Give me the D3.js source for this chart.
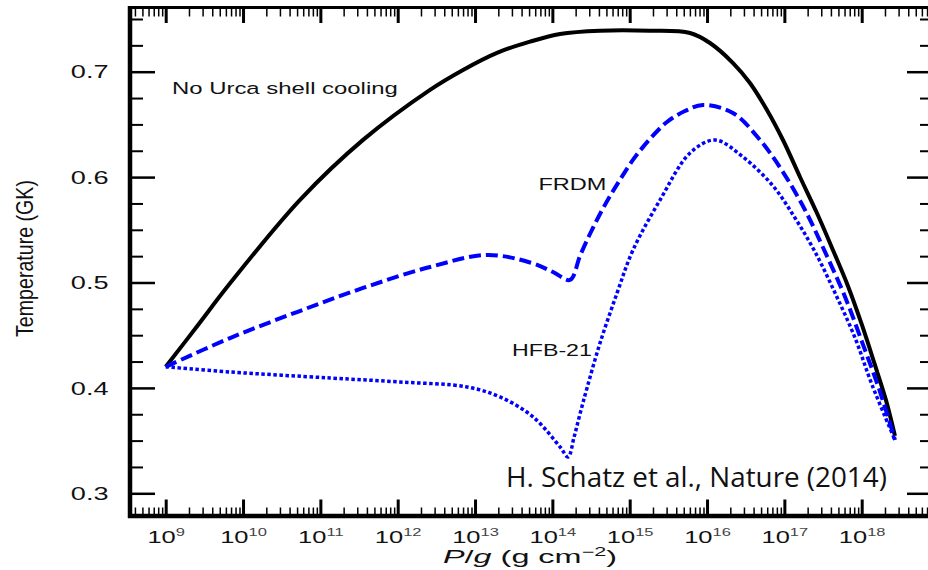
<!DOCTYPE html>
<html>
<head>
<meta charset="utf-8">
<script src="https://cdn.jsdelivr.net/npm/d3@7"></script>
<style>
body { margin:0; background:#fff; }
text { font-family: "Liberation Sans", Arial, sans-serif; fill:#111; }
</style>
</head>
<body>
<svg id="chart" width="928" height="570"></svg>
<script>
// curves: x = log10(P/g), y = temperature in GK
var noUrcaLogP = [9, 9.401, 9.832, 10.737, 11.552, 12.418, 12.845, 13.284, 13.711, 14.099, 14.616, 15.262, 15.78, 16.038, 16.336, 16.555, 16.775, 16.982, 17.202, 17.421, 17.628, 17.822, 18.003, 18.171, 18.313, 18.43];
var noUrcaT    = [0.42, 0.458, 0.4992, 0.5784, 0.6353, 0.6828, 0.7017, 0.7179, 0.7285, 0.7358, 0.7389, 0.7389, 0.7367, 0.7272, 0.7082, 0.6893, 0.6637, 0.6352, 0.6001, 0.5659, 0.5308, 0.4967, 0.4597, 0.4218, 0.3886, 0.3545];

var frdmLogP = [9, 9.832, 10.698, 11.552, 12.418, 13.155, 13.711, 14.008, 14.228, 14.357, 14.486, 14.616, 14.745, 14.874, 15.042, 15.262, 15.482, 15.714, 15.947, 16.335, 16.685, 16.982, 17.267, 17.526, 17.785, 18.018, 18.238, 18.43];
var frdmT    = [0.42, 0.4473, 0.472, 0.4948, 0.5147, 0.5261, 0.519, 0.51, 0.5024, 0.5252, 0.546, 0.565, 0.582, 0.5974, 0.6163, 0.6362, 0.6523, 0.6627, 0.6684, 0.6608, 0.6352, 0.6048, 0.5688, 0.529, 0.4863, 0.4408, 0.3961, 0.3506];

var hfbLogP = [9, 9.832, 11.125, 12.03, 12.896, 13.323, 13.75, 14.099, 14.203, 14.281, 14.357, 14.448, 14.616, 14.836, 15.042, 15.392, 15.78, 16.103, 16.465, 16.853, 17.138, 17.397, 17.655, 17.914, 18.134, 18.43];
var hfbT    = [0.42, 0.4151, 0.4094, 0.4056, 0.4009, 0.3914, 0.3725, 0.344, 0.3345, 0.3534, 0.3752, 0.3999, 0.4425, 0.4899, 0.5307, 0.5782, 0.6228, 0.6352, 0.6191, 0.5916, 0.5612, 0.529, 0.4901, 0.4474, 0.4028, 0.3506];

var xMajorExp = [9, 10, 11, 12, 13, 14, 15, 16, 17, 18];
var yMajor = [0.3, 0.4, 0.5, 0.6, 0.7];

var svg = d3.select("#chart");
var frame = {left:130, right:933, top:7.5, bottom:516};

var x = d3.scaleLog().domain([1e9, 1e18]).range([165.7, 861.7]);
var y = d3.scaleLinear().domain([0.3, 0.7]).range([493.3, 71.7]);

// minor ticks: 2..9 x 10^d and every 0.025 in T
var xMinor = [];
for (var d = 8; d <= 18; d++)
	for (var m = 2; m <= 9; m++)
	{
		var v = m * Math.pow(10, d);
		if (x(v) > frame.left + 2 && x(v) < frame.right - 2)
			xMinor.push(v);
	}
var xMajor = xMajorExp.map(function(e){ return Math.pow(10, e); });
var yMinor = d3.range(0.275, 0.776, 0.025).filter(function(v){
	var near = yMajor.some(function(t){ return Math.abs(t - v) < 1e-6; });
	return !near && y(v) > frame.top + 2 && y(v) < frame.bottom - 2;
});

function tickAxis(axis, pos, values, size, w)
{
	var g = svg.append("g").attr("transform", pos)
		.call(axis.tickValues(values).tickSize(size).tickSizeOuter(0).tickFormat(""));
	g.select(".domain").remove();
	g.selectAll(".tick line").attr("stroke", "#000").attr("stroke-width", w);
	return g;
}

tickAxis(d3.axisBottom(x), "translate(0," + frame.bottom + ")", xMinor, -8.5, 1.5);
var xBottom = tickAxis(d3.axisBottom(x), "translate(0," + frame.bottom + ")", xMajor, -16.5, 3);
tickAxis(d3.axisTop(x), "translate(0," + frame.top + ")", xMinor, -9, 1.5);
tickAxis(d3.axisTop(x), "translate(0," + frame.top + ")", xMajor, -15.5, 3);

tickAxis(d3.axisLeft(y), "translate(" + frame.left + ",0)", yMinor, -13, 2);
var yLeft = tickAxis(d3.axisLeft(y), "translate(" + frame.left + ",0)", yMajor, -25, 2.5);
tickAxis(d3.axisRight(y), "translate(" + frame.right + ",0)", yMinor, -13, 2);
tickAxis(d3.axisRight(y), "translate(" + frame.right + ",0)", yMajor, -26, 2.5);

// tick labels, stretched wide like the scanned figure
xBottom.selectAll(".tick").each(function(v, i){
	var t = d3.select(this).append("text")
		.attr("text-anchor", "middle")
		.attr("font-size", 17)
		.attr("transform", "translate(0,27) scale(1.5,1)");
	t.append("tspan").text("10");
	t.append("tspan").attr("font-size", 11).attr("dy", -7).attr("fill", "#444")
		.text(String(xMajorExp[i]));
});
yLeft.selectAll(".tick").append("text")
	.attr("text-anchor", "end")
	.attr("font-size", 17.5)
	.attr("dy", "0.35em")
	.attr("transform", "translate(-21.5,0) scale(1.55,1)")
	.text(function(v){ return d3.format(".1f")(v); });

// frame
svg.append("line").attr("x1", frame.left).attr("x2", frame.left)
	.attr("y1", frame.top - 1.5).attr("y2", frame.bottom + 2)
	.attr("stroke", "#000").attr("stroke-width", 4.5);
svg.append("line").attr("x1", frame.left - 2).attr("x2", frame.right)
	.attr("y1", frame.bottom).attr("y2", frame.bottom)
	.attr("stroke", "#000").attr("stroke-width", 4.5);
svg.append("line").attr("x1", frame.left - 2).attr("x2", frame.right)
	.attr("y1", frame.top).attr("y2", frame.top)
	.attr("stroke", "#000").attr("stroke-width", 3);

// curves
var line = d3.line()
	.x(function(d){ return x(Math.pow(10, d[0])); })
	.y(function(d){ return y(d[1]); })
	.curve(d3.curveCatmullRom.alpha(0.5));

function pairs(a, b){ return a.map(function(v, i){ return [v, b[i]]; }); }

svg.append("path").datum(pairs(noUrcaLogP, noUrcaT))
	.attr("d", line).attr("fill", "none")
	.attr("stroke", "#000").attr("stroke-width", 4);
svg.append("path").datum(pairs(frdmLogP, frdmT))
	.attr("d", line).attr("fill", "none")
	.attr("stroke", "#0000ff").attr("stroke-width", 4)
	.attr("stroke-dasharray", "12,5");
svg.append("path").datum(pairs(hfbLogP, hfbT))
	.attr("d", line).attr("fill", "none")
	.attr("stroke", "#0000ff").attr("stroke-width", 3.5)
	.attr("stroke-dasharray", "3.5,2.5");

// text placed at (x, baseline) and squeezed/stretched to the width seen in the figure
function fitText(str, px, py, w, size, family)
{
	var t = svg.append("text").attr("font-size", size).text(str);
	if (family) t.style("font-family", family);
	var nat = t.node().getBBox().width;
	t.attr("transform", "translate(" + px + "," + py + ") scale(" + (w / nat) + ",1)");
	return t;
}

fitText("No Urca shell cooling", 172, 94, 226, 17);
fitText("FRDM", 538.5, 189.5, 68, 17);
fitText("HFB-21", 512, 356, 80, 17);
fitText("H. Schatz et al., Nature (2014)", 506, 487, 381, 27, "'Open Sans', sans-serif");

// axis titles
var yl = svg.append("text").attr("font-size", 23).attr("text-anchor", "middle")
	.style("font-family", "'Liberation Sans Narrow', 'Liberation Sans', sans-serif")
	.text("Temperature (GK)");
var ylw = yl.node().getBBox().width;
yl.attr("transform", "translate(33,258.5) rotate(-90) scale(" + (157 / ylw) + ",1)");

var xl = svg.append("text").attr("font-size", 18);
xl.append("tspan").attr("font-style", "italic").text("P");
xl.append("tspan").text("/");
xl.append("tspan").attr("font-style", "italic").text("g");
xl.append("tspan").text(" (g cm");
xl.append("tspan").attr("font-size", 12).attr("dy", -7).text("\u22122");
xl.append("tspan").attr("dy", 7).text(")");
var xlw = xl.node().getBBox().width;
xl.attr("transform", "translate(443,563) scale(" + (174 / xlw) + ",1)");
</script>
</body>
</html>
